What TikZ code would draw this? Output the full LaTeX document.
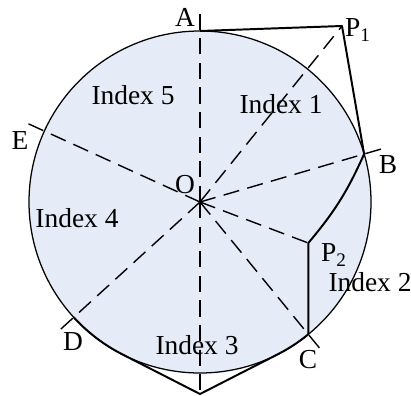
\documentclass[tikz,border=0pt]{standalone}
\usepackage{fontspec}
\setmainfont{Liberation Serif}
\usetikzlibrary{calc}
\definecolor{diskfill}{RGB}{229,236,247}

\begin{document}
\begin{tikzpicture}[
    x=0.025cm, y=0.025cm,
    radial/.style={dash pattern=on 11.5pt off 6pt, line width=1pt},
    rim/.style={line width=0.9pt},
    bound/.style={line width=1.4pt, line join=round},
    lbl/.style={inner sep=0pt, font=\fontsize{19.5}{22}\selectfont}
  ]
  \useasboundingbox (-200,-193) rectangle (211,202);

  % points on and around the disk
  \coordinate (O) at (0,0);
  \coordinate (A) at (90:171);
  \coordinate (At) at (90:190);
  \coordinate (P1) at (142,176);
  \coordinate (B) at (16.3:171);
  \coordinate (Bt) at (16.3:190);
  \coordinate (E) at (155.5:171);
  \coordinate (Et) at (155.5:190);
  \coordinate (D) at (222.4:171);
  \coordinate (Dt) at (222.4:190);
  \coordinate (C) at (-50.7:171);
  \coordinate (Ct) at (-50.7:190);
  \coordinate (P2) at (C |- 0,-41);
  \coordinate (V) at (0,-192);
  \coordinate (T1) at (-117.05:171);
  \coordinate (T2) at (-62.95:171);

  \fill[diskfill] (O) circle [radius=171];
  \draw[rim] (O) circle [radius=171];

  \foreach \e in {At,P1,Bt,Et,Dt,P2,Ct,V}
    \draw[radial] (O) -- (\e);

  \draw[bound] (A) -- (P1) -- (B) to[bend left=8] (P2) -- (C);
  \draw[bound] (D) arc [start angle=222.4, end angle=242.95, radius=171]
    -- (V) -- (T2) arc [start angle=-62.95, end angle=-50.7, radius=171];

  \node[lbl] (lA) at (-15,185) {A};
  \node[lbl] (lP1) at (158,172) {P\textsubscript{1}};
  \node[lbl] (lB) at (188,37) {B};
  \node[lbl] (lE) at (-180,61) {E};
  \node[lbl] (lO) at (-15,17) {O};
  \node[lbl] (lD) at (-127,-140) {D};
  \node[lbl] (lC) at (108,-158) {C};
  \node[lbl] (lP2) at (134,-53) {P\textsubscript{2}};
  \node[lbl] (i1) at (81,98) {Index 1};
  \node[lbl] (i2) at (170,-80) {Index 2};
  \node[lbl] (i3) at (-3,-143) {Index 3};
  \node[lbl] (i4) at (-123,-16) {Index 4};
  \node[lbl] (i5) at (-67,107) {Index 5};
\end{tikzpicture}
\end{document}
